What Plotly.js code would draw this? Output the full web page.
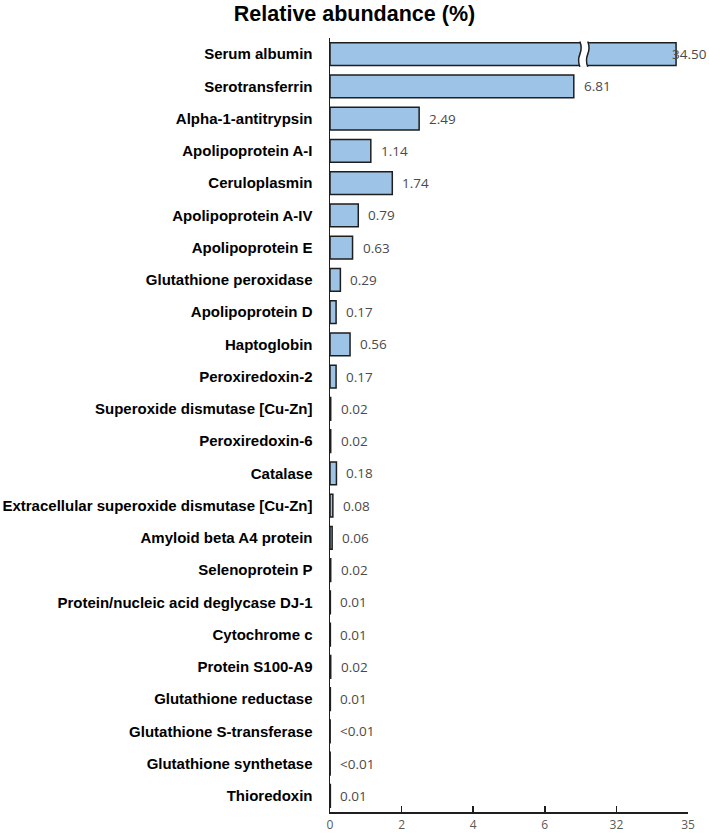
<!DOCTYPE html>
<html>
<head>
<meta charset="utf-8">
<script src="https://cdn.plot.ly/plotly-3.0.1.min.js"></script>
<style>html,body{margin:0;padding:0;background:#fff;}#chart{width:709px;height:836px;}</style>
</head>
<body>
<div id="chart"></div>
<script>
const proteins = [
  "Serum albumin","Serotransferrin","Alpha-1-antitrypsin","Apolipoprotein A-I","Ceruloplasmin",
  "Apolipoprotein A-IV","Apolipoprotein E","Glutathione peroxidase","Apolipoprotein D","Haptoglobin",
  "Peroxiredoxin-2","Superoxide dismutase [Cu-Zn]","Peroxiredoxin-6","Catalase",
  "Extracellular superoxide dismutase [Cu-Zn]","Amyloid beta A4 protein","Selenoprotein P",
  "Protein/nucleic acid deglycase DJ-1","Cytochrome c","Protein S100-A9","Glutathione reductase",
  "Glutathione S-transferase","Glutathione synthetase","Thioredoxin"
];
const abundance = [34.50,6.81,2.49,1.14,1.74,0.79,0.63,0.29,0.17,0.56,0.17,0.02,0.02,0.18,0.08,0.06,0.02,0.01,0.01,0.02,0.01,0.005,0.005,0.01];
const valueLabels = ["34.50","6.81","2.49","1.14","1.74","0.79","0.63","0.29","0.17","0.56","0.17","0.02","0.02","0.18","0.08","0.06","0.02","0.01","0.01","0.02","0.01","<0.01","<0.01","0.01"];
const tickValuesShown = [0,2,4,6,32,35];

// Broken axis: values up to the break are linear, values above 32 are compressed
const BREAK_LOW = 8, BREAK_HIGH = 32, HIGH_SCALE = 2/3;
function tx(v){ return v <= BREAK_LOW ? v : BREAK_LOW + (v - BREAK_HIGH) * HIGH_SCALE; }

const xt = abundance.map(tx);
const tickvals = tickValuesShown.map(tx);

const trace = {
  type: 'bar', orientation: 'h',
  x: xt, y: proteins,
  width: 0.71,
  marker: {color: '#9DC3E6', line: {color: '#1e1e1e', width: 1.5}},
  hoverinfo: 'skip'
};

const labelFont = {family:'Open Sans, sans-serif', size:13.5, color:'#4a4a4a'};
const annotations = proteins.map((p,i)=>{
  const over = xt[i] > 9;
  return over ? {
    xref:'paper', yref:'y', x:1, y:p, xanchor:'right', xshift:21, text: valueLabels[i], showarrow:false, font: labelFont
  } : {
    xref:'x', yref:'y', x:xt[i], y:p, xanchor:'left', xshift:8, text: valueLabels[i], showarrow:false, font: labelFont
  };
});

// break marks on the first bar
const n = proteins.length;
const cy = 1 - 0.5/n, hh = 0.39/n;
const yT = cy + hh, yB = cy - hh, yM = cy;
const bx1 = 6.98, bx2 = 7.2, dx = 0.07;
function wave(x){ return `${x},${yT} Q${x+dx},${(yT+yM)/2} ${x},${yM} Q${x-dx},${(yM+yB)/2} ${x},${yB}`; }
function waveUp(x){ return `${x},${yB} Q${x-dx},${(yM+yB)/2} ${x},${yM} Q${x+dx},${(yT+yM)/2} ${x},${yT}`; }
const shapes = [
  {type:'path', xref:'x', yref:'paper', path:`M${wave(bx1)} L${waveUp(bx2)} Z`, fillcolor:'#ffffff', line:{width:0}, layer:'above'},
  {type:'path', xref:'x', yref:'paper', path:`M${wave(bx1)}`, line:{color:'#1e1e1e', width:1.5}, layer:'above'},
  {type:'path', xref:'x', yref:'paper', path:`M${wave(bx2)}`, line:{color:'#1e1e1e', width:1.5}, layer:'above'}
];

const layout = {
  width: 709, height: 836,
  margin: {l:330, r:21, t:38, b:24},
  paper_bgcolor:'#ffffff', plot_bgcolor:'#ffffff',
  showlegend:false,
  title: {text:'<b>Relative abundance (%)</b>', xref:'container', x:0.5, xanchor:'center', yref:'container', y:1-13/836, yanchor:'middle',
    font:{family:'Liberation Sans, Arial, sans-serif', size:21.5, color:'#000'}},
  xaxis: {range:[0,10], tickvals: tickvals, ticktext: tickValuesShown.map(String),
    ticks:'inside', ticklen:6, tickwidth:1.5, tickcolor:'#1e1e1e',
    showline:true, linecolor:'#1e1e1e', linewidth:1.5, showgrid:false, zeroline:false,
    ticklabelstandoff:1,
    tickfont:{family:'Open Sans, sans-serif', size:12, color:'#595959'}, automargin:false, fixedrange:true},
  yaxis: {type:'category', categoryorder:'array', categoryarray: proteins, autorange:'reversed',
    showline:true, linecolor:'#1e1e1e', linewidth:1.5, ticks:'', showgrid:false, zeroline:false,
    ticklabelstandoff:13,
    tickfont:{family:'Liberation Sans, Arial, sans-serif', size:15, color:'#000', weight:'bold'}, automargin:false, fixedrange:true},
  annotations: annotations,
  shapes: shapes
};

Plotly.newPlot('chart', [trace], layout, {displayModeBar:false, staticPlot:true});
</script>
</body>
</html>
